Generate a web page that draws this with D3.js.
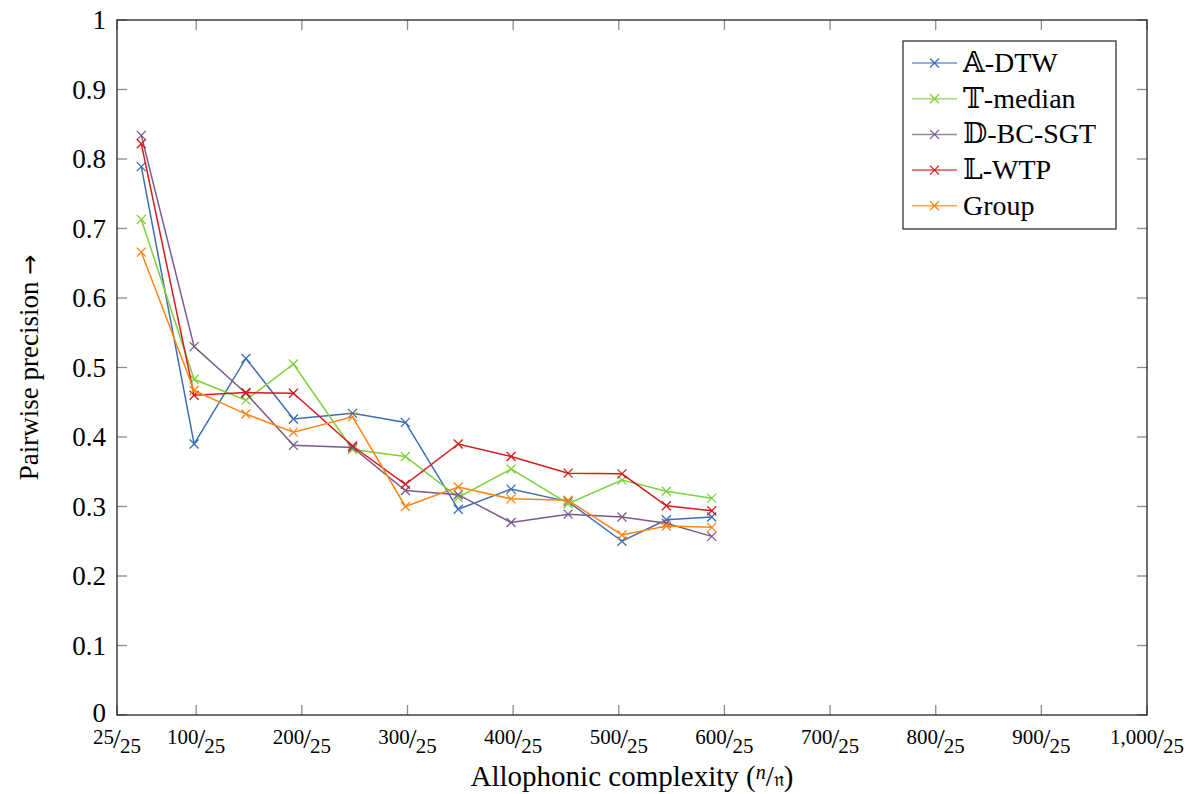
<!DOCTYPE html>
<html>
<head>
<meta charset="utf-8">
<script src="https://cdn.jsdelivr.net/npm/d3@7/dist/d3.min.js"></script>
<style>
  html, body { margin: 0; padding: 0; background: #fff; }
  svg { display: block; }
</style>
</head>
<body>
<svg id="chart" width="1188" height="794" font-family="'Liberation Serif', 'DejaVu Serif', 'Times New Roman', serif"></svg>
<script>
// ---- data ----
const xValues = [48, 98, 147, 192, 248, 298, 348, 398, 452, 503, 545, 588];
const seriesNames = ["\u{1D538}-DTW", "\u{1D54B}-median", "\u{1D53B}-BC-SGT", "\u{1D543}-WTP", "Group"];
const seriesColors = ["#3d6db5", "#7dd13b", "#7b5a8a", "#d41c1c", "#ff8414"];
const aDTW    = [0.789, 0.390, 0.513, 0.426, 0.434, 0.421, 0.296, 0.325, 0.307, 0.250, 0.281, 0.285];
const tMedian = [0.713, 0.483, 0.453, 0.505, 0.382, 0.372, 0.313, 0.354, 0.304, 0.338, 0.322, 0.312];
const dBCSGT  = [0.834, 0.530, 0.463, 0.388, 0.385, 0.323, 0.317, 0.277, 0.289, 0.285, 0.276, 0.257];
const lWTP    = [0.822, 0.460, 0.464, 0.463, 0.387, 0.332, 0.390, 0.372, 0.348, 0.347, 0.301, 0.294];
const group   = [0.666, 0.467, 0.433, 0.407, 0.429, 0.300, 0.328, 0.311, 0.309, 0.259, 0.272, 0.270];
const seriesValues = [aDTW, tMedian, dBCSGT, lWTP, group];
const xTicks = [25, 100, 200, 300, 400, 500, 600, 700, 800, 900, 1000];
const xTickNumerators = ["25", "100", "200", "300", "400", "500", "600", "700", "800", "900", "1,000"];
const xTickDenominator = "25";
const yTicks = [0, 0.1, 0.2, 0.3, 0.4, 0.5, 0.6, 0.7, 0.8, 0.9, 1];
const yTickLabels = ["0", "0.1", "0.2", "0.3", "0.4", "0.5", "0.6", "0.7", "0.8", "0.9", "1"];

// ---- layout ----
const svg = d3.select("#chart");
const pL = 117, pR = 1147, pT = 20, pB = 715;
const x = d3.scaleLinear().domain([25, 1000]).range([pL, pR]);
const y = d3.scaleLinear().domain([0, 1]).range([pB, pT]);
const tickLen = 10;

// ticks (inside, all four sides)
const tg = svg.append("g").attr("stroke", "#8c8c8c").attr("stroke-width", 1.3);
xTicks.forEach(t => {
  tg.append("line").attr("x1", x(t)).attr("x2", x(t)).attr("y1", pB).attr("y2", pB - tickLen);
  tg.append("line").attr("x1", x(t)).attr("x2", x(t)).attr("y1", pT).attr("y2", pT + tickLen);
});
yTicks.forEach(t => {
  tg.append("line").attr("x1", pL).attr("x2", pL + tickLen).attr("y1", y(t)).attr("y2", y(t));
  tg.append("line").attr("x1", pR).attr("x2", pR - tickLen).attr("y1", y(t)).attr("y2", y(t));
});

// frame
svg.append("rect").attr("x", pL).attr("y", pT).attr("width", pR - pL).attr("height", pB - pT)
  .attr("fill", "none").attr("stroke", "#222").attr("stroke-width", 1.3);

// y tick labels
yTicks.forEach((t, i) => {
  svg.append("text").attr("x", 106).attr("y", y(t) + (i === 0 ? 7 : 9)).attr("text-anchor", "end")
    .attr("font-size", 27).text(yTickLabels[i]);
});

// x tick labels (nice fractions)
xTicks.forEach((t, i) => {
  const tx = svg.append("text").attr("x", x(t)).attr("y", 748).attr("text-anchor", "middle").attr("font-size", 21);
  tx.append("tspan").attr("dy", -4).text(xTickNumerators[i]);
  tx.append("tspan").attr("dy", 4).attr("font-size", 28).attr("dx", -1).text("/");
  tx.append("tspan").attr("dy", 5).attr("dx", -1).text(xTickDenominator);
});

// axis labels
const xl = svg.append("text").attr("x", (pL + pR) / 2).attr("y", 786).attr("text-anchor", "middle").attr("font-size", 29);
xl.append("tspan").text("Allophonic complexity (");
xl.append("tspan").attr("font-size", 20).attr("font-style", "italic").attr("dy", -7).text("n");
xl.append("tspan").attr("dy", 7).text("/");
xl.append("tspan").attr("font-size", 20).text("\u{1D52B}");
xl.append("tspan").text(")");

const yl = svg.append("text").attr("transform", `translate(38, ${(pT + pB) / 2}) rotate(-90)`)
  .attr("text-anchor", "middle").attr("font-size", 27);
yl.append("tspan").text("Pairwise precision ");
yl.append("tspan").attr("font-family", "'DejaVu Sans', sans-serif").attr("font-size", 24).text("\u2192");

// series
const line = d3.line().x((d, i) => x(xValues[i])).y(d => y(d));
const ms = 4.5;
function cross(g, cx, cy, color) {
  g.append("path").attr("d", `M${cx - ms},${cy - ms}L${cx + ms},${cy + ms}M${cx - ms},${cy + ms}L${cx + ms},${cy - ms}`)
    .attr("stroke", color).attr("stroke-width", 1.3).attr("fill", "none");
}
seriesValues.forEach((vals, s) => {
  const g = svg.append("g");
  g.append("path").datum(vals).attr("d", line).attr("fill", "none")
    .attr("stroke", seriesColors[s]).attr("stroke-width", 1.5);
  vals.forEach((v, i) => cross(g, x(xValues[i]), y(v), seriesColors[s]));
});

// legend
const lg = svg.append("g");
lg.append("rect").attr("x", 903).attr("y", 41).attr("width", 213).attr("height", 188)
  .attr("fill", "#fff").attr("stroke", "#333").attr("stroke-width", 1.3);
seriesNames.forEach((name, s) => {
  const ly = 63 + s * 35.7;
  lg.append("line").attr("x1", 912).attr("x2", 957).attr("y1", ly).attr("y2", ly)
    .attr("stroke", seriesColors[s]).attr("stroke-width", 1.5).attr("stroke-opacity", 0.75);
  cross(lg, 934.5, ly, seriesColors[s]);
  lg.append("text").attr("x", 963).attr("y", ly + 9).attr("font-size", 28).text(name);
});
</script>
</body>
</html>
